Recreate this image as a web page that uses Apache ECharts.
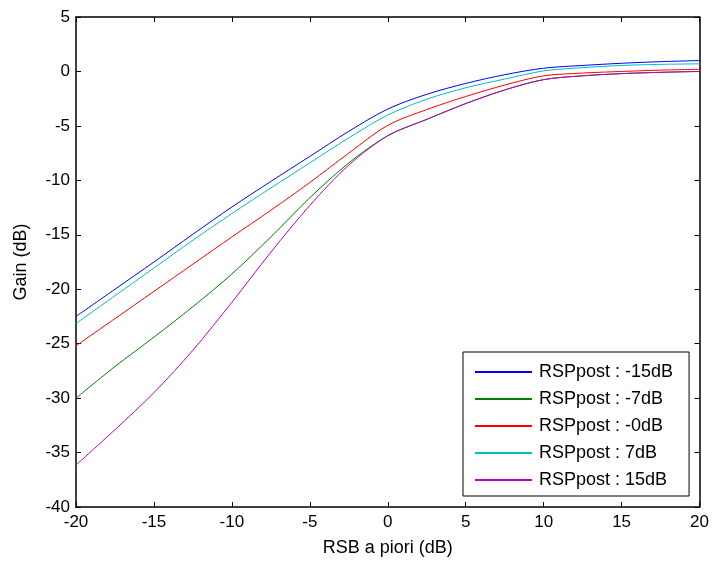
<!DOCTYPE html>
<html>
<head>
<meta charset="utf-8">
<script src="https://cdn.jsdelivr.net/npm/echarts@6/dist/echarts.min.js"></script>
<style>
  html, body { margin: 0; padding: 0; background: #fff; }
  #chart { width: 712px; height: 562px; }
</style>
</head>
<body>
<div id="chart"></div>
<script>
// RSB a priori (dB) abscissa, shared by every curve
const xs = [-20, -17.5, -15, -12.5, -10, -7.5, -5, -2.5, 0, 2.5, 5, 7.5, 10, 12.5, 15, 17.5, 20]
// gain (dB) per RSP post curve
const gainM15 = [-22.5, -20.0, -17.5, -14.95, -12.45, -10.1, -7.8, -5.5, -3.45, -2.1, -1.1, -0.3, 0.3, 0.55, 0.75, 0.9, 1.0]
const gainM7 = [-30.0, -27.1, -24.4, -21.6, -18.6, -15.2, -11.6, -8.4, -5.9, -4.4, -2.95, -1.7, -0.75, -0.4, -0.2, -0.08, 0.0]
const gainM0 = [-25.2, -22.7, -20.2, -17.7, -15.2, -12.75, -10.2, -7.5, -4.95, -3.5, -2.3, -1.25, -0.4, -0.15, 0.0, 0.12, 0.2]
const gainP7 = [-23.15, -20.6, -18.05, -15.5, -13.05, -10.7, -8.4, -6.1, -4.0, -2.55, -1.5, -0.7, 0.05, 0.35, 0.55, 0.65, 0.7]
const gainP15 = [-36.15, -32.9, -29.5, -25.6, -21.2, -16.6, -12.3, -8.6, -5.9, -4.4, -2.95, -1.7, -0.75, -0.4, -0.2, -0.08, 0.0]

const names = ['RSPpost : -15dB', 'RSPpost : -7dB', 'RSPpost : -0dB', 'RSPpost : 7dB', 'RSPpost : 15dB']
const gains = [gainM15, gainM7, gainM0, gainP7, gainP15]
const colorArr = ['#0000ff', '#008000', '#ff0000', '#00bfbf', '#bf00bf']

const font = 'Liberation Sans, Arial, sans-serif'
const chart = echarts.init(document.getElementById('chart'))

const series = names.map((name, i) => ({
  name: name,
  type: 'line',
  symbol: 'none',
  smooth: 0.3,
  animation: false,
  data: xs.map((x, k) => [x, gains[i][k]]),
  lineStyle: { color: colorArr[i], width: 1 },
  itemStyle: { color: colorArr[i] }
}))

// axes drawn MATLAB style: box on all sides, ticks pointing inward
const tickStyle = { inside: true, length: 5, lineStyle: { color: '#000', width: 1 } }
const lineStyle = { onZero: false, lineStyle: { color: '#000', width: 1.5 } }

chart.setOption({
  backgroundColor: '#fff',
  textStyle: { fontFamily: font },
  grid: { left: 76, right: 11, top: 17, bottom: 54, containLabel: false },
  legend: {
    orient: 'vertical',
    left: 463,
    top: 352,
    padding: [11, 16, 7, 12],
    itemGap: 9,
    itemWidth: 57,
    itemHeight: 2,
    icon: 'rect',
    backgroundColor: '#fff',
    borderColor: '#000',
    borderWidth: 1,
    borderRadius: 0,
    textStyle: { color: '#000', fontSize: 18, lineHeight: 18, fontFamily: font, padding: [0, 0, 0, 2] },
    data: names
  },
  xAxis: [
    {
      type: 'value', min: -20, max: 20, interval: 5,
      name: 'RSB a piori (dB)', nameLocation: 'middle', nameGap: 32,
      nameTextStyle: { color: '#000', fontSize: 18, fontFamily: font },
      axisLine: lineStyle, axisTick: tickStyle,
      axisLabel: { color: '#000', fontSize: 17, margin: 7, fontFamily: font },
      splitLine: { show: false }
    },
    {
      type: 'value', min: -20, max: 20, interval: 5, position: 'top',
      axisLine: lineStyle, axisTick: tickStyle,
      axisLabel: { show: false }, splitLine: { show: false }
    }
  ],
  yAxis: [
    {
      type: 'value', min: -40, max: 5, interval: 5,
      name: 'Gain (dB)', nameLocation: 'middle', nameGap: 46,
      nameTextStyle: { color: '#000', fontSize: 18, fontFamily: font },
      axisLine: lineStyle, axisTick: tickStyle,
      axisLabel: { color: '#000', fontSize: 17, margin: 6, fontFamily: font },
      splitLine: { show: false }
    },
    {
      type: 'value', min: -40, max: 5, interval: 5, position: 'right',
      axisLine: lineStyle, axisTick: tickStyle,
      axisLabel: { show: false }, splitLine: { show: false }
    }
  ],
  series: series
})
</script>
</body>
</html>
